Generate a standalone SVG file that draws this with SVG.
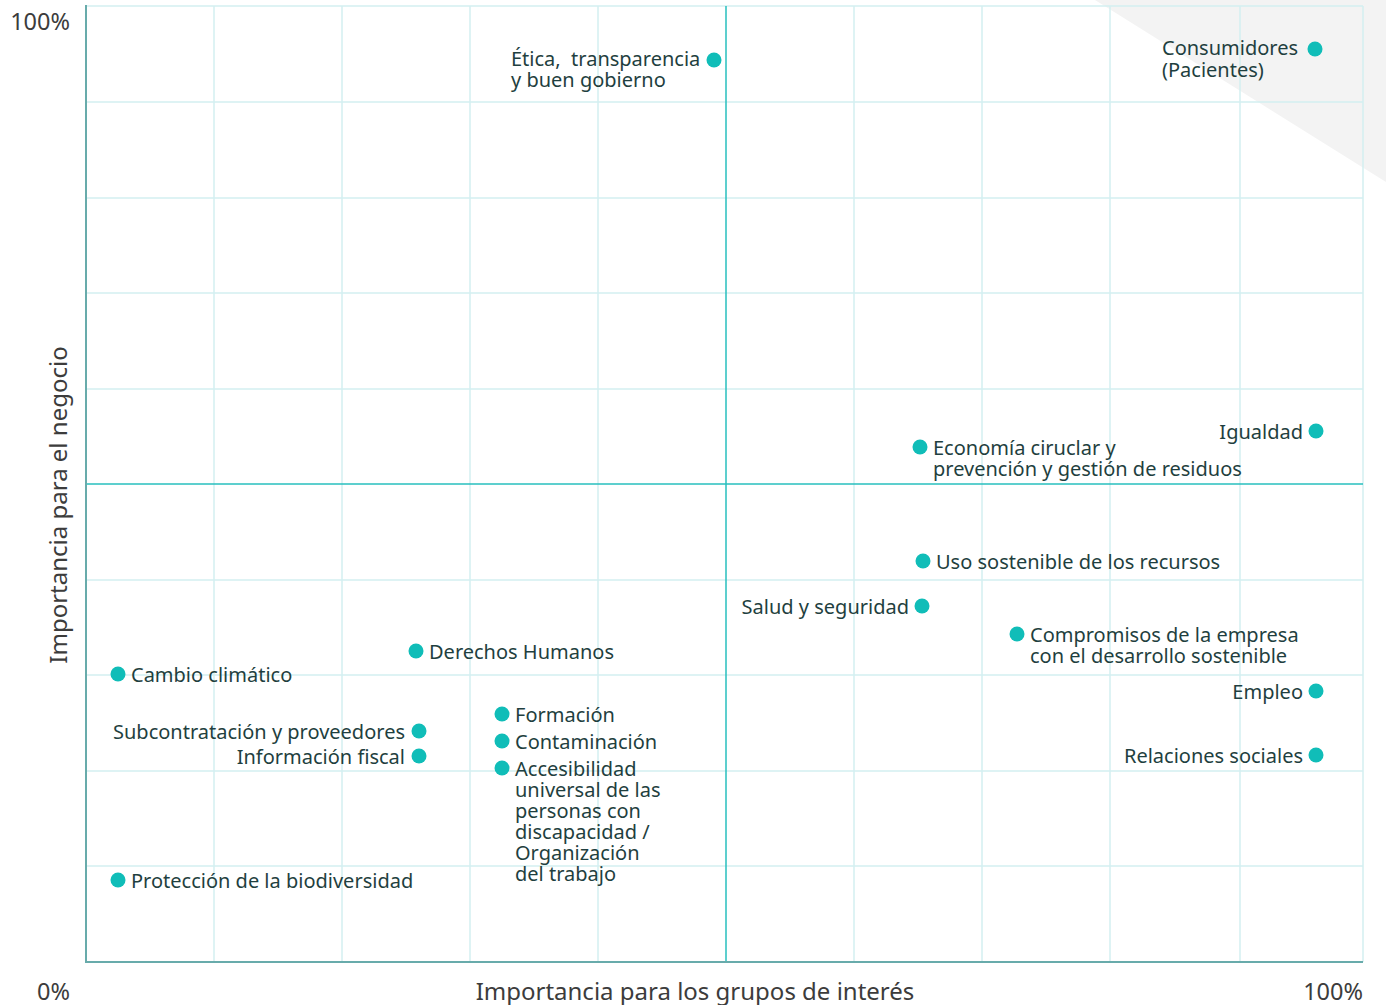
<svg xmlns="http://www.w3.org/2000/svg" width="1386" height="1005" viewBox="0 0 1386 1005">
<style>
.grid{stroke:#d3eff1;stroke-width:1.5;fill:none}
.mid{stroke:#29c0bf;stroke-width:1.5;fill:none}
.axis{stroke:#68abab;stroke-width:2;fill:none}
.lbl{font-family:"Noto Sans","Open Sans",sans-serif;font-size:20px;fill:#1f3f40}
.ax{font-family:"Noto Sans","Open Sans",sans-serif;font-size:23.5px;fill:#3c3c3c}
.title{font-family:"Noto Sans","Open Sans",sans-serif;font-size:24px;fill:#3c3c3c}
.end{text-anchor:end}
.dot{fill:#10bdb8}
</style>
<rect width="1386" height="1005" fill="#ffffff"/>
<polygon points="1095,0 1386,0 1386,182" fill="#f3f3f3"/>
<g id="grid">
<path class="grid" d="M214,6V962M342,6V962M470,6V962M598,6V962M854,6V962M982,6V962M1110,6V962M1240,6V962M1363,6V962"/>
<path class="grid" d="M86,6H1363M86,102H1363M86,198H1363M86,293H1363M86,389H1363M86,580H1363M86,675H1363M86,771H1363M86,866H1363"/>
<path class="mid" d="M726,6V962M86,484H1363"/>
<path class="axis" d="M86,5V962H1363"/>
</g>
<g id="axis-labels">
<text class="ax end" x="70" y="30">100%</text>
<text class="ax end" x="70" y="1000">0%</text>
<text class="ax end" x="1363" y="1000">100%</text>
<text class="title" x="695" y="1000" text-anchor="middle">Importancia para los grupos de interés</text>
<text class="title" transform="translate(67,505) rotate(-90)" text-anchor="middle">Importancia para el negocio</text>
</g>
<g id="n-etica"><circle class="dot" cx="714" cy="60" r="7.5"/><text class="lbl" x="511" y="66" xml:space="preserve">Ética,  transparencia</text><text class="lbl" x="511" y="87">y buen gobierno</text></g>
<g id="n-consumidores"><circle class="dot" cx="1315" cy="49" r="7.5"/><text class="lbl" x="1162" y="55">Consumidores</text><text class="lbl" x="1162" y="77">(Pacientes)</text></g>
<g id="n-igualdad"><circle class="dot" cx="1316" cy="431" r="7.5"/><text class="lbl end" x="1303" y="439">Igualdad</text></g>
<g id="n-economia"><circle class="dot" cx="920" cy="447" r="7.5"/><text class="lbl" x="933" y="455">Economía ciruclar y</text><text class="lbl" x="933" y="476">prevención y gestión de residuos</text></g>
<g id="n-uso"><circle class="dot" cx="923" cy="561" r="7.5"/><text class="lbl" x="936" y="569">Uso sostenible de los recursos</text></g>
<g id="n-salud"><circle class="dot" cx="922" cy="606" r="7.5"/><text class="lbl end" x="909" y="614">Salud y seguridad</text></g>
<g id="n-compromisos"><circle class="dot" cx="1017" cy="634" r="7.5"/><text class="lbl" x="1030" y="642">Compromisos de la empresa</text><text class="lbl" x="1030" y="663">con el desarrollo sostenible</text></g>
<g id="n-empleo"><circle class="dot" cx="1316" cy="691" r="7.5"/><text class="lbl end" x="1303" y="699">Empleo</text></g>
<g id="n-relaciones"><circle class="dot" cx="1316" cy="755" r="7.5"/><text class="lbl end" x="1303" y="763">Relaciones sociales</text></g>
<g id="n-derechos"><circle class="dot" cx="416" cy="651" r="7.5"/><text class="lbl" x="429" y="659">Derechos Humanos</text></g>
<g id="n-cambio"><circle class="dot" cx="118" cy="674" r="7.5"/><text class="lbl" x="131" y="682">Cambio climático</text></g>
<g id="n-subcontratacion"><circle class="dot" cx="419" cy="731" r="7.5"/><text class="lbl end" x="405" y="739">Subcontratación y proveedores</text></g>
<g id="n-fiscal"><circle class="dot" cx="419" cy="756" r="7.5"/><text class="lbl end" x="405" y="764">Información fiscal</text></g>
<g id="n-formacion"><circle class="dot" cx="502" cy="714" r="7.5"/><text class="lbl" x="515" y="722">Formación</text></g>
<g id="n-contaminacion"><circle class="dot" cx="502" cy="741" r="7.5"/><text class="lbl" x="515" y="749">Contaminación</text></g>
<g id="n-accesibilidad"><circle class="dot" cx="502" cy="768" r="7.5"/>
<text class="lbl" x="515" y="776">Accesibilidad</text>
<text class="lbl" x="515" y="797">universal de las</text>
<text class="lbl" x="515" y="818">personas con</text>
<text class="lbl" x="515" y="839">discapacidad /</text>
<text class="lbl" x="515" y="860">Organización</text>
<text class="lbl" x="515" y="881">del trabajo</text></g>
<g id="n-biodiversidad"><circle class="dot" cx="118" cy="880" r="7.5"/><text class="lbl" x="131" y="888">Protección de la biodiversidad</text></g>
<g id="connectors"></g>
</svg>
